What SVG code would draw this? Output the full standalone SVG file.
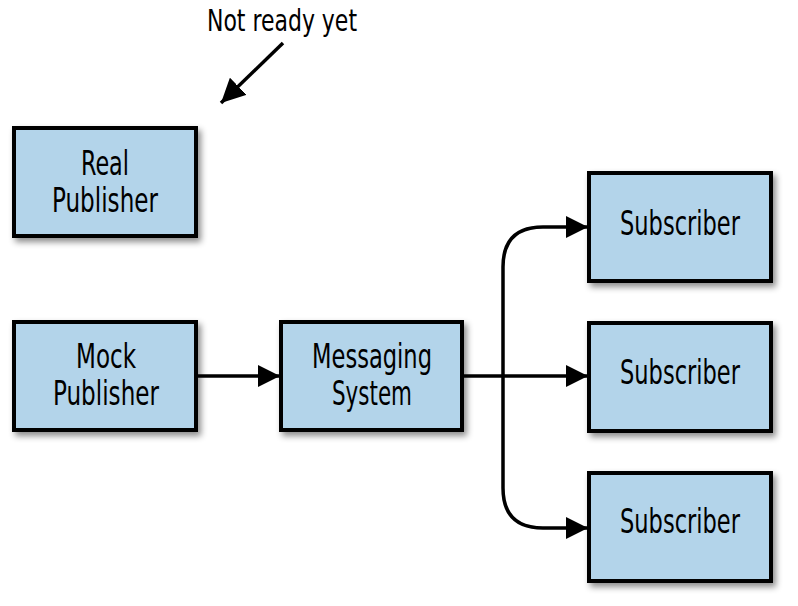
<svg xmlns="http://www.w3.org/2000/svg" width="798" height="606" viewBox="0 0 798 606">
<style>
.box{fill:#b3d4ea;stroke:#000;stroke-width:4;filter:url(#sh)}
.t{font-family:"Liberation Sans Narrow","DejaVu Sans Condensed","Liberation Sans",sans-serif;font-size:34px;fill:#000;text-anchor:middle}
.c{fill:none;stroke:#000;stroke-width:3.5}
</style>
<defs>
<filter id="sh" x="-10%" y="-10%" width="130%" height="140%">
<feDropShadow dx="3" dy="4" stdDeviation="3" flood-color="#000" flood-opacity="0.45"/>
</filter>
<marker id="ah" viewBox="0 0 22 22" refX="22" refY="11" markerWidth="22" markerHeight="22" markerUnits="userSpaceOnUse" orient="auto">
<path d="M0,0 L22,11 L0,22 Z" fill="#000"/>
</marker>
<marker id="ah2" viewBox="0 0 24 24" refX="24" refY="12" markerWidth="24" markerHeight="24" markerUnits="userSpaceOnUse" orient="auto">
<path d="M0,0 L24,12 L0,24 Z" fill="#000"/>
</marker>
</defs>
<text class="t" x="282" y="31" style="font-size:30px" textLength="150" lengthAdjust="spacingAndGlyphs">Not ready yet</text>
<g id="connectors">
<path class="c" d="M283,43 L221,103" marker-end="url(#ah2)"/>
<path class="c" d="M197,376 L280,376" marker-end="url(#ah)"/>
<path class="c" d="M463,376 L588,376" marker-end="url(#ah)"/>
<path class="c" d="M503,376 L503,267 Q503,227 543,227 L588,227" marker-end="url(#ah)"/>
<path class="c" d="M503,376 L503,488 Q503,528 543,528 L588,528" marker-end="url(#ah)"/>
</g>
<g id="real">
<rect class="box" x="14" y="128" width="182" height="108"/>
<text class="t" x="105" y="175" textLength="48" lengthAdjust="spacingAndGlyphs">Real</text>
<text class="t" x="105" y="212" textLength="106" lengthAdjust="spacingAndGlyphs">Publisher</text>
</g>
<g id="mock">
<rect class="box" x="14" y="322" width="182" height="108"/>
<text class="t" x="106" y="368" textLength="60" lengthAdjust="spacingAndGlyphs">Mock</text>
<text class="t" x="106" y="405" textLength="106" lengthAdjust="spacingAndGlyphs">Publisher</text>
</g>
<g id="messaging">
<rect class="box" x="281" y="322" width="181" height="108"/>
<text class="t" x="372" y="368" textLength="120" lengthAdjust="spacingAndGlyphs">Messaging</text>
<text class="t" x="372" y="405" textLength="80" lengthAdjust="spacingAndGlyphs">System</text>
</g>
<g id="sub1">
<rect class="box" x="589" y="173" width="182" height="108"/>
<text class="t" x="680" y="235" textLength="120" lengthAdjust="spacingAndGlyphs">Subscriber</text>
</g>
<g id="sub2">
<rect class="box" x="589" y="323" width="182" height="108"/>
<text class="t" x="680" y="384" textLength="120" lengthAdjust="spacingAndGlyphs">Subscriber</text>
</g>
<g id="sub3">
<rect class="box" x="589" y="473" width="182" height="108"/>
<text class="t" x="680" y="533" textLength="120" lengthAdjust="spacingAndGlyphs">Subscriber</text>
</g>
</svg>
